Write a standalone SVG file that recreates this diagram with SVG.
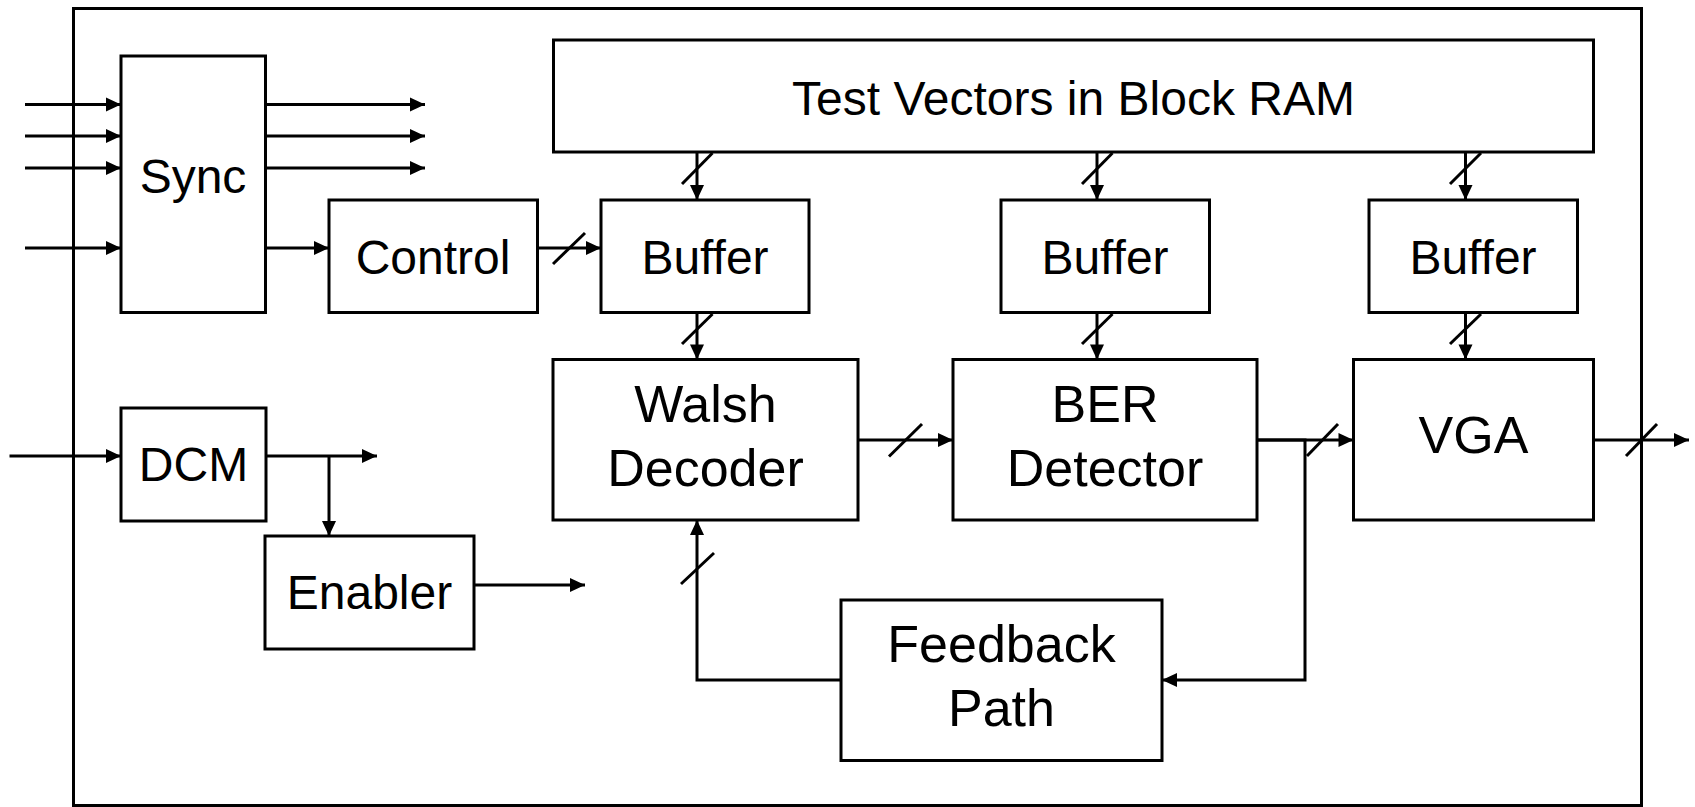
<svg xmlns="http://www.w3.org/2000/svg" width="1695" height="807" viewBox="0 0 1695 807">
<style>
.box{fill:#fff;stroke:#000;stroke-width:3}
.frame{fill:none;stroke:#000;stroke-width:3}
.w{fill:none;stroke:#000;stroke-width:3}
.arr{fill:none;stroke:#000;stroke-width:3;marker-end:url(#ah)}
.t{font-family:"Liberation Sans",Arial,sans-serif;font-size:48px;fill:#000;text-anchor:middle}
.t2{font-family:"Liberation Sans",Arial,sans-serif;font-size:52px;fill:#000;text-anchor:middle}
</style>
<defs>
<marker id="ah" markerUnits="userSpaceOnUse" markerWidth="15" markerHeight="14" refX="15" refY="7" orient="auto" overflow="visible">
<path d="M0,0 L15,7 L0,14 z" fill="#000"/>
</marker>
</defs>
<rect width="1695" height="807" fill="#fff"/>
<rect class="frame" x="73.5" y="8.5" width="1568" height="797"/>

<g id="connectors">
<line class="arr" x1="25" y1="104.5" x2="121" y2="104.5"/>
<line class="arr" x1="25" y1="136" x2="121" y2="136"/>
<line class="arr" x1="25" y1="168" x2="121" y2="168"/>
<line class="arr" x1="25" y1="248" x2="121" y2="248"/>
<line class="arr" x1="265" y1="104.5" x2="425" y2="104.5"/>
<line class="arr" x1="265" y1="136" x2="425" y2="136"/>
<line class="arr" x1="265" y1="168" x2="425" y2="168"/>
<line class="arr" x1="265" y1="248" x2="329" y2="248"/>
<line class="arr" x1="537" y1="248" x2="601" y2="248"/>
<line class="arr" x1="697" y1="152" x2="697" y2="200"/>
<line class="arr" x1="697" y1="312.5" x2="697" y2="359.5"/>
<line class="arr" x1="1097" y1="152" x2="1097" y2="200"/>
<line class="arr" x1="1097" y1="312.5" x2="1097" y2="359.5"/>
<line class="arr" x1="1465.5" y1="152" x2="1465.5" y2="200"/>
<line class="arr" x1="1465.5" y1="312.5" x2="1465.5" y2="359.5"/>
<line class="arr" x1="858" y1="440" x2="953" y2="440"/>
<line class="arr" x1="1257" y1="440" x2="1353.5" y2="440"/>
<line class="arr" x1="1593.5" y1="440" x2="1689" y2="440"/>
<path class="arr" d="M1257,440 H1305 V680 H1162"/>
<path class="arr" d="M841,680 H697 V520"/>
<line class="arr" x1="9.5" y1="456" x2="121" y2="456"/>
<line class="arr" x1="266" y1="456" x2="377" y2="456"/>
<line class="arr" x1="329" y1="456" x2="329" y2="536"/>
<line class="arr" x1="474" y1="585" x2="585" y2="585"/>
<!-- bus slashes -->
<line class="w" x1="553" y1="264" x2="585" y2="233"/>
<line class="w" x1="682" y1="184" x2="712.5" y2="153"/>
<line class="w" x1="682" y1="344" x2="712.5" y2="314"/>
<line class="w" x1="1082" y1="184" x2="1112.5" y2="153"/>
<line class="w" x1="1082" y1="344" x2="1112.5" y2="314"/>
<line class="w" x1="1450" y1="184" x2="1481" y2="153"/>
<line class="w" x1="1450" y1="344" x2="1481" y2="314"/>
<line class="w" x1="889" y1="456.5" x2="922" y2="424"/>
<line class="w" x1="1307" y1="456" x2="1338" y2="424"/>
<line class="w" x1="1626" y1="456" x2="1657" y2="424"/>
<line class="w" x1="681" y1="584" x2="714" y2="553"/>
</g>

<g id="sync"><rect class="box" x="121" y="56" width="144.5" height="256.5"/><text class="t" x="193" y="193">Sync</text></g>
<g id="control"><rect class="box" x="329" y="200" width="208.5" height="112.5"/><text class="t" x="433" y="273.5">Control</text></g>
<g id="ram"><rect class="box" x="553.5" y="40" width="1040" height="112"/><text class="t" x="1073.5" y="114.5">Test Vectors in Block RAM</text></g>
<g id="buffer1"><rect class="box" x="601" y="200" width="208" height="112.5"/><text class="t" x="705" y="273.5">Buffer</text></g>
<g id="buffer2"><rect class="box" x="1001" y="200" width="208.5" height="112.5"/><text class="t" x="1105" y="273.5">Buffer</text></g>
<g id="buffer3"><rect class="box" x="1369" y="200" width="208.5" height="112.5"/><text class="t" x="1473" y="273.5">Buffer</text></g>
<g id="walsh"><rect class="box" x="553" y="359.5" width="305" height="160.5"/><text class="t2" x="705.5" y="422">Walsh</text><text class="t2" x="705.5" y="486">Decoder</text></g>
<g id="ber"><rect class="box" x="953" y="359.5" width="304" height="160.5"/><text class="t2" x="1105" y="422">BER</text><text class="t2" x="1105" y="486">Detector</text></g>
<g id="vga"><rect class="box" x="1353.5" y="359.5" width="240" height="160.5"/><text class="t2" x="1473.5" y="453">VGA</text></g>
<g id="feedback"><rect class="box" x="841" y="600" width="321" height="160.5"/><text class="t2" x="1001.5" y="662">Feedback</text><text class="t2" x="1001.5" y="726">Path</text></g>
<g id="dcm"><rect class="box" x="121" y="408" width="145" height="113"/><text class="t" x="193.5" y="481">DCM</text></g>
<g id="enabler"><rect class="box" x="265" y="536" width="209" height="113"/><text class="t" x="369.5" y="608.5">Enabler</text></g>
</svg>
